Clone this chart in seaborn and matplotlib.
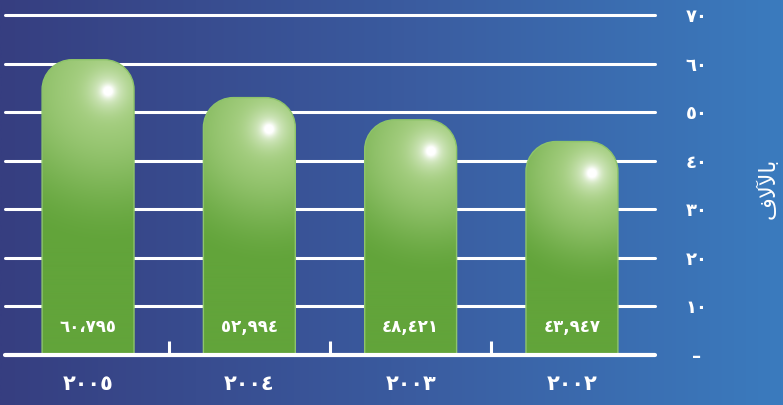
import numpy as np
import pandas as pd
import matplotlib
matplotlib.use("Agg")
import matplotlib.pyplot as plt
import seaborn as sns
from matplotlib.path import Path
from matplotlib.patches import PathPatch
from matplotlib.colors import LinearSegmentedColormap, to_rgb

# ---- data ----
years = ["٢٠٠٥", "٢٠٠٤", "٢٠٠٣", "٢٠٠٢"]
values = [60.795, 52.994, 48.421, 43.947]
value_labels = ["٦٠،٧٩٥", "٥٢,٩٩٤", "٤٨,٤٢١", "٤٣,٩٤٧"]
y_ticks = [0, 10, 20, 30, 40, 50, 60, 70]
y_tick_labels = ["–", "١٠", "٢٠", "٣٠", "٤٠", "٥٠", "٦٠", "٧٠"]
# "بالآلاف" written with shaped presentation forms in visual order
y_title = "\uFED1\uFEFB\uFEF5\uFE8E\uFE91"

sns.set_theme(style="white")
plt.rcParams["font.family"] = ["DejaVu Sans"]

W, H = 783, 405
fig = plt.figure(figsize=(W / 100, H / 100), dpi=100)

# background gradient
bg = fig.add_axes([0, 0, 1, 1])
bg.set_axis_off()
bg.set_zorder(-10)
cmap_bg = LinearSegmentedColormap.from_list("bg", ["#363E80", "#3A5A9E", "#3B7BBE"])
bg.imshow(np.linspace(0, 1, 512)[None, :], aspect="auto", cmap=cmap_bg,
          extent=(0, 1, 0, 1))

ax = fig.add_axes([5 / W, 50 / H, 650 / W, 340 / H])
ax.patch.set_alpha(0)
df = pd.DataFrame({"year": years, "value": values})
sns.barplot(data=df, x="year", y="value", order=years, width=0.57,
            color="#62A43A", ax=ax, zorder=3)
xlim = (-0.515, len(years) - 1 + 0.515)
ax.set_xlim(*xlim)
ax.set_ylim(y_ticks[0], y_ticks[-1])

for s in ax.spines.values():
    s.set_visible(False)

# grid lines and baseline
for t in y_ticks[1:]:
    ax.axhline(t, color="white", lw=2.2, zorder=1, clip_on=False)
ax.axhline(y_ticks[0], color="white", lw=3, zorder=5, clip_on=False)
seps = np.arange(len(years) - 1) + 0.5
ax.vlines(seps, 0, 2.9, color="white", lw=2.2, zorder=5)

# ticks
ax.yaxis.tick_right()
ax.set_yticks(y_ticks)
ax.set_yticklabels(y_tick_labels, ha="center", fontweight="bold")
ax.tick_params(axis="y", length=0, pad=30, colors="white", labelsize=13)
ax.set_xticks(range(len(years)))
ax.set_xticklabels(years, fontweight="bold")
ax.tick_params(axis="x", length=0, pad=14, colors="white", labelsize=15)
ax.set_xlabel("")
ax.set_ylabel("")

# fancy rounded gradient bars, built from the seaborn bar patches
p0 = ax.transData.transform((0, 0))
p1 = ax.transData.transform((1, 1))
sx, sy = p1[0] - p0[0], p1[1] - p0[1]
light = np.array(to_rgb("#A6CF81"))
dark = np.array(to_rgb("#62A43A"))
k = 0.5523
bars = list(ax.patches)
for i, p in enumerate(bars):
    x0, w, h = p.get_x(), p.get_width(), p.get_height()
    p.set_visible(False)
    x1 = x0 + w
    rx, ry = 30 / sx, 30 / sy
    verts = [(x0, 0), (x0, h - ry),
             (x0, h - ry + k * ry), (x0 + rx - k * rx, h), (x0 + rx, h),
             (x1 - rx, h),
             (x1 - rx + k * rx, h), (x1, h - ry + k * ry), (x1, h - ry),
             (x1, 0), (x0, 0)]
    codes = [Path.MOVETO, Path.LINETO,
             Path.CURVE4, Path.CURVE4, Path.CURVE4,
             Path.LINETO,
             Path.CURVE4, Path.CURVE4, Path.CURVE4,
             Path.LINETO, Path.CLOSEPOLY]
    path = Path(verts, codes)
    npx, npy = int(round(w * sx)), int(round(h * sy))
    X, Y = np.meshgrid(np.arange(npx) + 0.5, np.arange(npy) + 0.5)
    cx, cy = npx / 2 + 20, 32
    d = np.hypot(X - cx, Y - cy)
    t = np.clip((d - 10) / (0.5 * npy), 0, 1)
    t = t * t * (3 - 2 * t)
    img = light[None, None, :] * (1 - t[..., None]) + dark[None, None, :] * t[..., None]
    glow = np.clip(0.6 * np.exp(-(d / 7) ** 2) + 0.6 * np.exp(-(d / 19) ** 2), 0, 1)
    img = img * (1 - glow[..., None]) + glow[..., None]
    im = ax.imshow(img, extent=(x0, x1, 0, h), aspect="auto", zorder=3,
                   interpolation="bilinear", origin="upper")
    pp = PathPatch(path, facecolor="none", edgecolor="#8EC46B", lw=1, zorder=3.5)
    ax.add_patch(pp)
    im.set_clip_path(pp)
    ax.annotate(value_labels[i], xy=(x0 + w / 2, 0), xytext=(0, 20),
                textcoords="offset points", ha="center", va="center",
                color="white", fontsize=12, fontweight="bold", zorder=6)

ax.set_xlim(*xlim)
ax.set_ylim(y_ticks[0], y_ticks[-1])

fig.text(767 / W, 1 - 188 / H, y_title, rotation=90, ha="center", va="center",
         color="white", fontsize=16)

fig.savefig("out.png", dpi=100)
